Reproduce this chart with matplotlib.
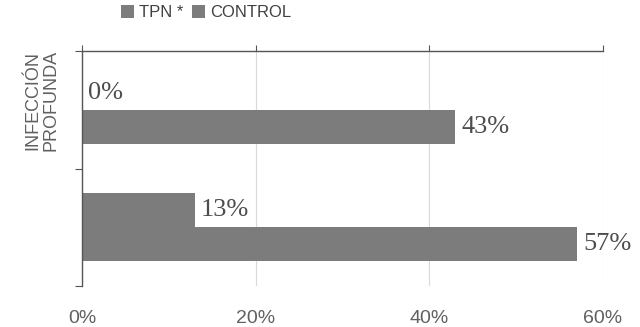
import numpy as np
import matplotlib.pyplot as plt

categories = ["INFECCIÓN\nPROFUNDA", ""]
tpn = [0.0, 0.13]
control = [0.43, 0.57]
series_names = ["TPN *", "CONTROL"]
x_ticks = [0.0, 0.2, 0.4, 0.6]

bar_color = "#7c7c7c"
text_gray = "#606060"

fig = plt.figure(figsize=(6.4, 3.27), dpi=100)
ax = fig.add_axes([0.128, 0.125, 0.814, 0.719])

pos = np.arange(len(categories))
h = 0.29
b1 = ax.barh(pos - h / 2, tpn, height=h, color=bar_color, label=series_names[0])
b2 = ax.barh(pos + h / 2, control, height=h, color=bar_color, label=series_names[1])

for bars, vals in ((b1, tpn), (b2, control)):
    for bar, v in zip(bars, vals):
        ax.text(v + 0.007, bar.get_y() + bar.get_height() / 2, f"{v * 100:.0f}%",
                va="center", ha="left", fontsize=19, family="Liberation Serif",
                color="#4d4d4d")

ax.set_ylim(len(categories) - 0.5, -0.5)
ax.set_xlim(0, 0.6)

# category boundaries carry the tick marks, labels sit beside the centers
ax.set_yticks(np.arange(len(categories) + 1) - 0.5)
ax.set_yticklabels([])
ax.tick_params(axis="y", length=5, color="#555555", direction="out")
for p, name in zip(pos, categories):
    ax.text(-0.046, p - 0.08, name, rotation=90, ha="center", va="center",
            fontsize=13, color=text_gray, family="Liberation Sans",
            linespacing=1.05)

ax.set_xticks(x_ticks)
ax.set_xticklabels([f"{t * 100:.0f}%" for t in x_ticks])
ax.tick_params(axis="x", bottom=False, top=True, length=4, color="#555555",
               labelsize=14, labelcolor=text_gray, pad=13)
for lab in ax.get_xticklabels():
    lab.set_family("Liberation Sans")

ax.grid(axis="x", color="#d9d9d9", linewidth=0.8)
ax.set_axisbelow(True)
for side in ("right", "bottom"):
    ax.spines[side].set_visible(False)
for side in ("top", "left"):
    ax.spines[side].set_color("#555555")
    ax.spines[side].set_linewidth(1.0)

fig.legend(handles=[b1, b2], labels=series_names, loc="center",
           bbox_to_anchor=(0.322, 0.962), ncol=2, frameon=False,
           handlelength=0.8, handleheight=0.8, handletextpad=0.3,
           columnspacing=0.5, prop={"family": "Liberation Sans", "size": 12},
           labelcolor="#404040")

fig.savefig("out.png", dpi=100)
